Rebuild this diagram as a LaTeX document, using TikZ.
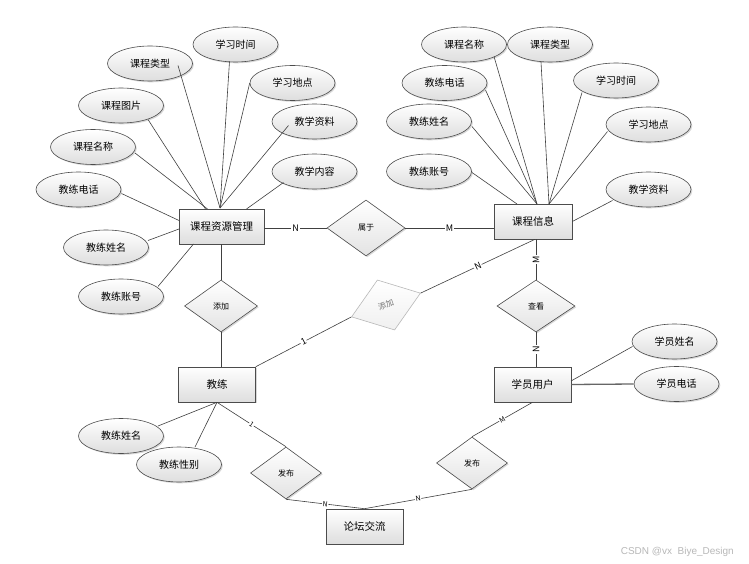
\documentclass[tikz,border=0pt]{standalone}
\usepackage{fontspec}
\setmainfont{Noto Sans CJK SC}
\newfontfamily\wmfont{Liberation Sans}
\usetikzlibrary{shapes.geometric,shadows,calc}
\begin{document}
\begin{tikzpicture}[x=1pt,y=-1pt,
  every node/.style={inner sep=0pt},
  shad/.style={drop shadow={shadow xshift=1.3pt,shadow yshift=-1.3pt,opacity=0.3}},
  attr/.style={ellipse, draw=black!70, line width=0.6pt, top color=white, bottom color=black!13,
    minimum width=85pt, minimum height=35pt, font=\fontsize{10}{12}\selectfont, shad},
  ent/.style={rectangle, draw=black!70, line width=0.6pt, top color=white, bottom color=black!13,
    minimum width=77pt, minimum height=35pt, font=\fontsize{10.5}{12}\selectfont, shad},
  rel/.style={diamond, draw=black!70, line width=0.6pt, top color=white, bottom color=black!11,
    font=\fontsize{8}{10}\selectfont, shad},
  grel/.style={diamond, draw=black!28, line width=0.6pt, top color=white, bottom color=black!6,
    text=black!55, font=\fontsize{8}{10}\selectfont},
  conn/.style={draw=black!75, line width=0.6pt},
  card/.style={fill=white, font=\fontsize{9}{10}\selectfont, inner sep=0.8pt},
  scard/.style={fill=white, font=\fontsize{7}{8}\selectfont, inner sep=0.6pt}
]
\useasboundingbox[fill=white] (0,0) rectangle (749,564);

% ---- left entity and attributes
\node[ent, minimum width=85pt] (L) at (221.5,226.5) {课程资源管理};
\node[attr] (a1) at (235.5,44.5) {学习时间};
\node[attr] (a2) at (150,63.5) {课程类型};
\node[attr] (a3) at (292.5,83) {学习地点};
\node[attr] (a4) at (121,105.5) {课程图片};
\node[attr] (a5) at (314.5,121.5) {教学资料};
\node[attr] (a6) at (93,147) {课程名称};
\node[attr] (a7) at (314.5,171.5) {教学内容};
\node[attr] (a8) at (78.5,189.5) {教练电话};
\node[attr] (a9) at (106,247.5) {教练姓名};
\node[attr] (a10) at (121,296.5) {教练账号};
\coordinate (Lt) at ([shift={(-1.5,-18.5)}]L.center);

\draw[conn] ([shift={(-6,17)}]a1.center) -- (Lt);
\draw[conn] ([shift={(28,2)}]a2.center) -- (Lt);
\draw[conn] (a3.west) -- (Lt);
\draw[conn] ([shift={(27,14)}]a4.center) -- ([shift={(-16,-17.5)}]L.center);
\draw[conn] ([shift={(-26,4)}]a5.center) -- (Lt);
\draw[conn] ([shift={(42,6)}]a6.center) -- ([shift={(-14,-17.5)}]L.center);
\draw[conn] ([shift={(-31,11)}]a7.center) -- ([shift={(25,-17.5)}]L.center);
\draw[conn] ([shift={(43,4)}]a8.center) -- ([shift={(-42.5,-6)}]L.center);
\draw[conn] ([shift={(42,-7)}]a9.center) -- ([shift={(-42.5,2.5)}]L.center);
\draw[conn] ([shift={(37,-10)}]a10.center) -- ([shift={(-28,17.5)}]L.center);

% ---- right entity and attributes
\node[ent, minimum width=78pt] (R) at (533,221.5) {课程信息};
\node[attr] (b1) at (464,44.5) {课程名称};
\node[attr] (b2) at (550,44.5) {课程类型};
\node[attr] (b3) at (444.5,83) {教练电话};
\node[attr] (b4) at (616,80.5) {学习时间};
\node[attr] (b5) at (429,121.5) {教练姓名};
\node[attr] (b6) at (648.5,124.5) {学习地点};
\node[attr] (b7) at (429,171.5) {教练账号};
\node[attr] (b8) at (648.5,189.5) {教学资料};
\coordinate (Rt1) at ([shift={(4,-17.5)}]R.center);
\coordinate (Rt2) at ([shift={(16,-17.5)}]R.center);

\draw[conn] ([shift={(30,12)}]b1.center) -- (Rt1);
\draw[conn] ([shift={(-9,17.5)}]b2.center) -- (Rt2);
\draw[conn] ([shift={(41,7)}]b3.center) -- (Rt1);
\draw[conn] ([shift={(-34,12)}]b4.center) -- (Rt2);
\draw[conn] ([shift={(43,5)}]b5.center) -- (Rt1);
\draw[conn] ([shift={(-41,7)}]b6.center) -- (Rt2);
\draw[conn] ([shift={(43,1)}]b7.center) -- ([shift={(-16,-17.5)}]R.center);
\draw[conn] ([shift={(-36,11)}]b8.center) -- (R.east);

% ---- relations
\node[rel, minimum width=78pt, minimum height=56pt] (S1) at (366,228) {属于};
\node[rel, minimum width=73pt, minimum height=52pt] (S2) at (221,306) {添加};
\node[grel, minimum width=73pt, minimum height=53pt, rotate=19] (S3) at (386,305) {添加};
\node[rel, minimum width=78pt, minimum height=52pt] (S4) at (536,306) {查看};
\node[rel, minimum width=71pt, minimum height=52pt] (S5) at (286,473) {发布};
\node[rel, minimum width=71pt, minimum height=52pt] (S6) at (472,463) {发布};

% ---- other entities
\node[ent] (T) at (217,384.5) {教练};
\node[ent] (U) at (532.5,384.5) {学员用户};
\node[ent] (F) at (364.5,526.5) {论坛交流};

\node[attr] (e1) at (674.5,341.5) {学员姓名};
\node[attr] (e2) at (676.5,384) {学员电话};
\node[attr] (g1) at (121,436) {教练姓名};
\node[attr] (g2) at (179,464.5) {教练性别};

% ---- connectors
\draw[conn] (L.east |- S1.west) -- node[card] (c1) {N} (S1.west);
\draw[conn] (S1.east) -- node[card] (c2) {M} (R.west |- S1.east);
\draw[conn] (S2.north |- L.south) -- (S2.north);
\draw[conn] (S2.south) -- (S2.south |- T.north);
\draw[conn] ([xshift=2pt]R.south) -- node[card, sloped] (c3) {N} (S3.east);
\draw[conn] (S3.west) -- node[card, sloped] (c4) {1} (T.north east);
\draw[conn] (S4.north |- R.south) -- node[card, rotate=90] (c5) {M} (S4.north);
\draw[conn] (S4.south) -- node[card, rotate=90] (c6) {N} (S4.south |- U.north);

\draw[conn] ([shift={(38.5,-3.5)}]U.center) -- ([shift={(-42,5)}]e1.center);
\draw[conn, line width=1.3pt, draw=black!60] (U.east) -- (e2.west);

\draw[conn] (T.south) -- ([shift={(37,-10)}]g1.center);
\draw[conn] (T.south) -- ([shift={(16,-17.5)}]g2.center);
\draw[conn] (T.south) -- node[scard, sloped] (c7) {1} (S5.north);
\draw[conn] (S5.south) -- node[scard, sloped] (c8) {N} (F.north);
\draw[conn] (F.north) -- node[scard, sloped] (c9) {N} (S6.south);
\draw[conn] (S6.north) -- node[scard, sloped] (c10) {M} (U.south);

% ---- watermark
\node[anchor=east, text=black!28, font=\wmfont\fontsize{10}{12}\selectfont] (wm) at (734,552) {CSDN @vx\ \ Biye\_Design};
\end{tikzpicture}
\end{document}
